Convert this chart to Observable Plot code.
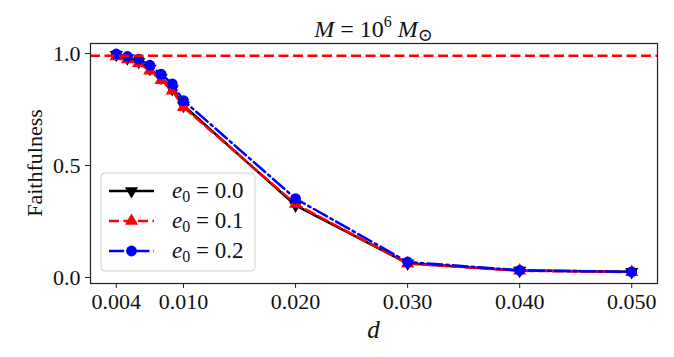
<!DOCTYPE html>
<html>
<head>
<meta charset="utf-8">
<script src="https://cdn.jsdelivr.net/npm/d3@7"></script>
<script src="https://cdn.jsdelivr.net/npm/@observablehq/plot@0.6"></script>
<style>
  html, body { margin: 0; padding: 0; background: white; }
  svg text { font-family: "Liberation Serif", "DejaVu Serif", serif !important; }
</style>
</head>
<body>
<div id="chart"></div>
<script>
const dValues = [0.004, 0.005, 0.006, 0.007, 0.008, 0.009, 0.010, 0.020, 0.030, 0.040, 0.050];
const faith_e00 = [0.995, 0.980, 0.963, 0.933, 0.892, 0.842, 0.768, 0.322, 0.063, 0.031, 0.025];
const faith_e01 = [0.987, 0.974, 0.957, 0.924, 0.881, 0.834, 0.761, 0.328, 0.062, 0.030, 0.024];
const faith_e02 = [0.998, 0.987, 0.975, 0.948, 0.908, 0.865, 0.790, 0.352, 0.069, 0.032, 0.025];
const seriesNames = ["0.0", "0.1", "0.2"];
const seriesColors = ["#000000", "#ff0000", "#0000ff"];
const xTicks = [0.004, 0.010, 0.020, 0.030, 0.040, 0.050];
const yTicks = [0.0, 0.5, 1.0];
const thresholdValue = [0.99];

const dashRed = "10,4.5";
const dashBlue = "15,4,2.5,4";
const dashes = [null, dashRed, dashBlue];

const triangleDown = {
  draw(ctx, size) {
    d3.symbolTriangle.draw({
      moveTo: (x, y) => ctx.moveTo(x, -y),
      lineTo: (x, y) => ctx.lineTo(x, -y),
      closePath: () => ctx.closePath()
    }, size);
  }
};
const symbols = [triangleDown, "triangle", "circle"];

const seriesValues = [faith_e00, faith_e01, faith_e02];
const rows = seriesValues.map(vals => dValues.map((d, i) => ({d, f: vals[i]})));

const font = "Liberation Serif, DejaVu Serif, serif";

const marks = [
  Plot.axisX({ticks: xTicks, tickFormat: d3.format(".3f"), tickSize: 5, tickPadding: 5, fontSize: 22, label: null, stroke: "#222"}),
  Plot.axisY({ticks: yTicks, tickFormat: d3.format(".1f"), tickSize: 5, tickPadding: 5, fontSize: 22, label: null, stroke: "#222"}),
];
rows.forEach((data, k) => {
  marks.push(Plot.line(data, {x: "d", y: "f", stroke: seriesColors[k], strokeWidth: 2.5, strokeDasharray: dashes[k]}));
  marks.push(Plot.dot(data, {x: "d", y: "f", fill: seriesColors[k], symbol: symbols[k], r: k === 2 ? 5.4 : 4.9}));
});
marks.push(Plot.ruleY(thresholdValue, {stroke: "#ff0000", strokeWidth: 2.5, strokeDasharray: dashRed}));
marks.push(Plot.frame({stroke: "#222", strokeWidth: 1.2}));

const chart = Plot.plot({
  width: 674,
  height: 357,
  marginLeft: 90,
  marginRight: 17,
  marginTop: 43,
  marginBottom: 74,
  x: {domain: [0.0017, 0.0523]},
  y: {domain: [-0.027, 1.045]},
  style: {fontFamily: font, background: "white", color: "#111", overflow: "visible"},
  marks
});
document.getElementById("chart").appendChild(chart);

const svg = d3.select(chart);
const W = 674, ml = 90, mr = 17, mt = 43, mb = 74, H = 357;
const cx = ml + (W - ml - mr) / 2;

// Title
const title = svg.append("text").attr("x", cx).attr("y", 37).attr("text-anchor", "middle")
  .attr("font-size", 24).attr("fill", "#111");
title.append("tspan").attr("font-style", "italic").text("M");
title.append("tspan").text(" = 10");
title.append("tspan").attr("font-size", 16).attr("dy", -10).text("6");
title.append("tspan").attr("dy", 10).text(" ");
title.append("tspan").attr("font-style", "italic").text("M");
title.append("tspan").attr("font-size", 18).attr("dy", 4).text("⊙");

// Axis labels
svg.append("text").attr("x", cx).attr("y", 338).attr("text-anchor", "middle")
  .attr("font-style", "italic").attr("font-size", 25).attr("fill", "#111").text("d");
svg.append("text").attr("transform", `translate(42,${mt + (H - mt - mb) / 2}) rotate(-90)`)
  .attr("text-anchor", "middle").attr("font-size", 22).attr("fill", "#111").text("Faithfulness");

// Legend
const lg = svg.append("g");
lg.append("rect").attr("x", 101).attr("y", 173).attr("width", 154).attr("height", 98).attr("rx", 4)
  .attr("fill", "white").attr("fill-opacity", 0.8).attr("stroke", "#d0d0d0").attr("stroke-width", 1);
seriesNames.forEach((name, k) => {
  const yy = 191 + k * 30;
  lg.append("line").attr("x1", 109).attr("x2", 154).attr("y1", yy).attr("y2", yy)
    .attr("stroke", seriesColors[k]).attr("stroke-width", 2.5).attr("stroke-dasharray", dashes[k]);
  const sym = typeof symbols[k] === "string" ? (symbols[k] === "circle" ? d3.symbolCircle : d3.symbolTriangle) : symbols[k];
  const r = k === 2 ? 5.4 : 4.9;
  lg.append("path").attr("d", d3.symbol(sym, Math.PI * r * r)()).attr("transform", `translate(131.5,${yy})`)
    .attr("fill", seriesColors[k]);
  const t = lg.append("text").attr("x", 172).attr("y", yy + 7).attr("text-anchor", "start")
    .attr("font-size", 23).attr("fill", "#111");
  t.append("tspan").attr("font-style", "italic").text("e");
  t.append("tspan").attr("font-size", 16).attr("dy", 4).text("0");
  t.append("tspan").attr("dy", -4).text(" = " + name);
});
</script>
</body>
</html>
